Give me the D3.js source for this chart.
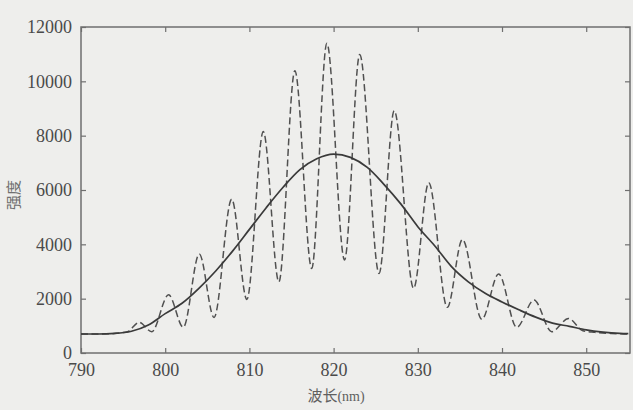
<!DOCTYPE html>
<html>
<head>
<meta charset="utf-8">
<script src="https://cdn.jsdelivr.net/npm/d3@7"></script>
<style>
  body { margin: 0; background: #eeeeec; }
  svg { display: block; }
  .tick text { font-family: "Liberation Serif", "DejaVu Serif", serif; }
</style>
</head>
<body>
<div id="main"></div>
<script>
var width = 633,
    height = 410;

// axis ranges and tick labels
var xTicks = [790, 800, 810, 820, 830, 840, 850];
var yTicks = [0, 2000, 4000, 6000, 8000, 10000, 12000];

// solid line (envelope)
var solidX = [790, 792, 794, 796, 798, 800, 802, 804, 806, 808, 810, 812, 814, 816, 818, 820,
              822, 824, 826, 828, 830, 832, 834, 836, 838, 840, 842, 844, 846, 848, 850, 852, 854, 855];
var solidY = [700, 700, 720, 800, 1030, 1450, 1830, 2380, 3020, 3750, 4550, 5350, 6100, 6750, 7150, 7320,
              7200, 6830, 6200, 5480, 4650, 3950, 3180, 2620, 2200, 1880, 1590, 1320, 1100, 980, 850, 770, 725, 715];

// dashed line (interference fringes), peaks and valleys
var dashX = [790, 793, 795.5, 796.9, 798.4, 800.4, 802.15, 804.05, 805.8, 807.9, 809.7, 811.65, 813.5,
             815.4, 817.4, 819.2, 821.3, 823.1, 825.4, 827.2, 829.5, 831.3, 833.5, 835.3, 837.6,
             839.6, 841.75, 843.8, 845.9, 847.9, 849.6, 851, 853, 855];
var dashY = [700, 705, 780, 1130, 785, 2140, 950, 3640, 1310, 5660, 1970, 8150, 2620,
             10390, 3110, 11400, 3420, 10990, 2930, 8920, 2380, 6270, 1680, 4180, 1240,
             2910, 945, 1950, 785, 1270, 820, 760, 720, 700];

var margin = {top: 27, right: 3, bottom: 57, left: 81};

var svg = d3.select("#main").append("svg")
    .attr("width", width)
    .attr("height", height);

var x = d3.scaleLinear().domain([790, 855.2]).range([margin.left, width - margin.right]);
var y = d3.scaleLinear().domain([0, 12000]).range([height - margin.bottom, margin.top]);

var axisColor = "#6f6f6f";
var textColor = "#4a4a4a";

function styleAxis(g, showText) {
    g.select(".domain").remove();
    g.selectAll(".tick line").attr("stroke", axisColor).attr("stroke-width", 1.2);
    g.selectAll(".tick text")
        .attr("fill", textColor)
        .style("font-size", "18px")
        .style("display", showText ? null : "none");
}

// bottom / top
svg.append("g")
    .attr("transform", "translate(0," + y(0) + ")")
    .call(d3.axisBottom(x).tickValues(xTicks).tickSize(-5).tickPadding(10).tickFormat(d3.format("d")))
    .call(function(g){ styleAxis(g, true); });
svg.append("g")
    .attr("transform", "translate(0," + y(12000) + ")")
    .call(d3.axisTop(x).tickValues(xTicks).tickSize(-5))
    .call(function(g){ styleAxis(g, false); });

// left / right
svg.append("g")
    .attr("transform", "translate(" + x(790) + ",0)")
    .call(d3.axisLeft(y).tickValues(yTicks).tickSize(-5).tickPadding(9).tickFormat(d3.format("d")))
    .call(function(g){ styleAxis(g, true); });
svg.append("g")
    .attr("transform", "translate(" + x(855.2) + ",0)")
    .call(d3.axisRight(y).tickValues(yTicks).tickSize(-5))
    .call(function(g){ styleAxis(g, false); });

// frame
svg.append("rect")
    .attr("x", x(790))
    .attr("y", y(12000))
    .attr("width", x(855.2) - x(790))
    .attr("height", y(0) - y(12000))
    .attr("fill", "none")
    .attr("stroke", axisColor)
    .attr("stroke-width", 1.5);

var solidData = solidX.map(function(d, i){ return [d, solidY[i]]; });
var dashData = dashX.map(function(d, i){ return [d, dashY[i]]; });

var line = d3.line()
    .x(function(d){ return x(d[0]); })
    .y(function(d){ return y(d[1]); })
    .curve(d3.curveMonotoneX);

svg.append("path")
    .datum(dashData)
    .attr("d", line)
    .attr("fill", "none")
    .attr("stroke", "#505050")
    .attr("stroke-width", 1.5)
    .attr("stroke-dasharray", "7,3.5");

svg.append("path")
    .datum(solidData)
    .attr("d", line)
    .attr("fill", "none")
    .attr("stroke", "#3a3a3a")
    .attr("stroke-width", 1.7);

// axis titles
svg.append("text")
    .attr("transform", "translate(19,195) rotate(-90)")
    .attr("text-anchor", "middle")
    .attr("fill", "#707070")
    .style("font-family", "Noto Sans CJK SC")
    .style("font-size", "15px")
    .text("强度");

var xt = svg.append("text")
    .attr("x", 336)
    .attr("y", 401)
    .attr("text-anchor", "middle")
    .attr("fill", "#606060")
    .style("font-family", "Noto Sans CJK SC")
    .style("font-size", "15px");
xt.append("tspan").text("波长");
xt.append("tspan")
    .style("font-family", "Liberation Serif")
    .style("font-size", "14px")
    .text("(nm)");
</script>
</body>
</html>
